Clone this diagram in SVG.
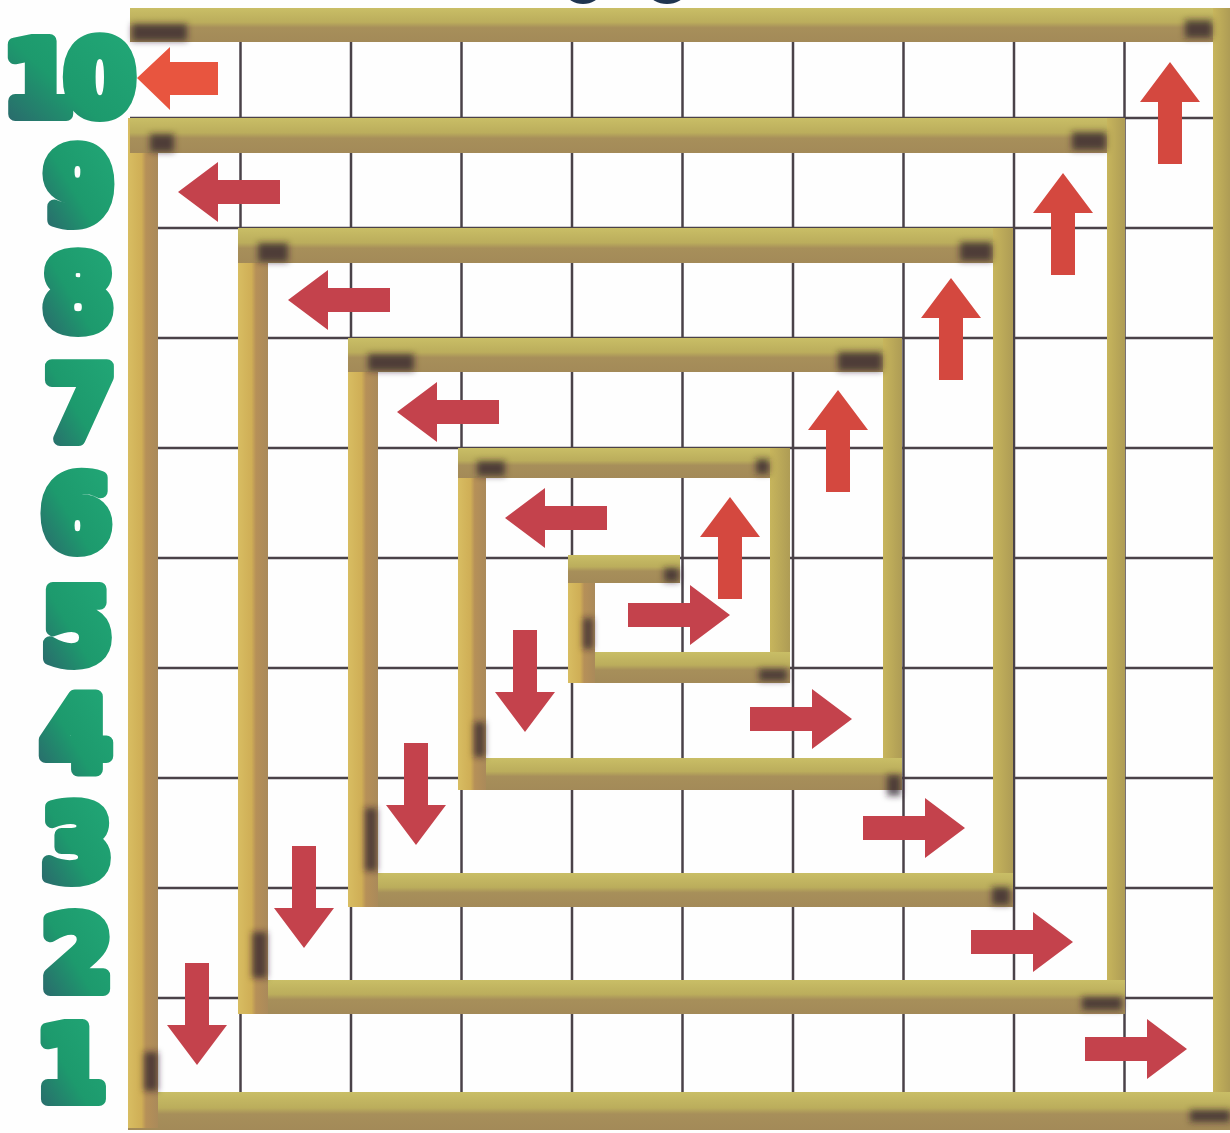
<svg xmlns="http://www.w3.org/2000/svg" width="1230" height="1133" viewBox="0 0 1230 1133">
  <defs>
    <linearGradient id="hg" x1="0" y1="0" x2="0" y2="1">
      <stop offset="0" stop-color="#c9be66"/>
      <stop offset="0.42" stop-color="#bbad5c"/>
      <stop offset="0.58" stop-color="#a78f5a"/>
      <stop offset="1" stop-color="#a38a58"/>
    </linearGradient>
    <linearGradient id="vg" x1="0" y1="0" x2="1" y2="0">
      <stop offset="0" stop-color="#d8bd62"/>
      <stop offset="0.45" stop-color="#cfae56"/>
      <stop offset="0.6" stop-color="#b69058"/>
      <stop offset="1" stop-color="#aa8a5a"/>
    </linearGradient>
    <linearGradient id="rg" x1="0" y1="0" x2="1" y2="0">
      <stop offset="0" stop-color="#c7b55c"/>
      <stop offset="1" stop-color="#ae9c55"/>
    </linearGradient>
    <linearGradient id="green" x1="1" y1="0" x2="0" y2="1">
      <stop offset="0" stop-color="#22a877"/>
      <stop offset="0.55" stop-color="#1d9a6d"/>
      <stop offset="1" stop-color="#2d5f6c"/>
    </linearGradient>
    <filter id="soft" x="-40%" y="-40%" width="180%" height="180%">
      <feGaussianBlur stdDeviation="3"/>
    </filter>
    <path id="arr" d="M0,0 L-40,-30 L-40,-12 L-102,-12 L-102,12 L-40,12 L-40,30 Z"/>
    <style>
      .grid line { stroke: #4a4248; stroke-width: 2.5; }
      .h { fill: url(#hg); }
      .v { fill: url(#vg); }
      .r { fill: url(#rg); }
      .dark rect { fill: #2a2028; opacity: 0.7; }
      .a { fill: #c4424c; }
      .au { fill: #d4483f; }
      .num { font-family: "DejaVu Sans", "Liberation Sans", sans-serif; font-weight: bold; font-size: 100px; fill: url(#green); stroke: url(#green); stroke-width: 14; stroke-linejoin: round; text-anchor: middle; }
    </style>
  </defs>

  <rect x="0" y="0" width="1230" height="1133" fill="#fefefe"/>

  <!-- cropped shapes at top edge -->
  <ellipse cx="583" cy="-6" rx="16" ry="10" fill="#1f3550"/>
  <ellipse cx="667" cy="-6" rx="17" ry="10" fill="#1f3550"/>

  <!-- grid -->
  <g id="grid" class="grid">
    <line x1="240.5" y1="8" x2="240.5" y2="1108"/>
    <line x1="351" y1="8" x2="351" y2="1108"/>
    <line x1="461.5" y1="8" x2="461.5" y2="1108"/>
    <line x1="572" y1="8" x2="572" y2="1108"/>
    <line x1="682.5" y1="8" x2="682.5" y2="1108"/>
    <line x1="793" y1="8" x2="793" y2="1108"/>
    <line x1="903.5" y1="8" x2="903.5" y2="1108"/>
    <line x1="1014" y1="8" x2="1014" y2="1108"/>
    <line x1="1124.5" y1="8" x2="1124.5" y2="1108"/>
    <line x1="130" y1="118" x2="1225" y2="118"/>
    <line x1="130" y1="228" x2="1225" y2="228"/>
    <line x1="130" y1="338" x2="1225" y2="338"/>
    <line x1="130" y1="448" x2="1225" y2="448"/>
    <line x1="130" y1="558" x2="1225" y2="558"/>
    <line x1="130" y1="668" x2="1225" y2="668"/>
    <line x1="130" y1="778" x2="1225" y2="778"/>
    <line x1="130" y1="888" x2="1225" y2="888"/>
    <line x1="130" y1="998" x2="1225" y2="998"/>
  </g>

  <!-- spiral walls -->
  <g id="walls">
    <rect class="h" x="130" y="8" width="1100" height="34"/>
    <rect class="r" x="1213" y="8" width="17" height="1122"/>
    <rect class="h" x="128" y="1092" width="1102" height="38"/>
    <rect class="v" x="128" y="118" width="30" height="1010"/>
    <rect class="h" x="130" y="118" width="995" height="35"/>
    <rect class="r" x="1107" y="118" width="18" height="895"/>
    <rect class="h" x="238" y="980" width="887" height="34"/>
    <rect class="v" x="238" y="228" width="30" height="786"/>
    <rect class="h" x="238" y="228" width="775" height="35"/>
    <rect class="r" x="993" y="228" width="20" height="679"/>
    <rect class="h" x="348" y="873" width="665" height="34"/>
    <rect class="v" x="348" y="338" width="30" height="569"/>
    <rect class="h" x="348" y="338" width="554" height="34"/>
    <rect class="r" x="883" y="338" width="19" height="452"/>
    <rect class="h" x="458" y="758" width="444" height="32"/>
    <rect class="v" x="458" y="448" width="28" height="342"/>
    <rect class="h" x="458" y="448" width="332" height="30"/>
    <rect class="r" x="770" y="448" width="20" height="235"/>
    <rect class="h" x="568" y="652" width="222" height="31"/>
    <rect class="v" x="568" y="555" width="27" height="128"/>
    <rect class="h" x="568" y="555" width="112" height="28"/>
  </g>

  <!-- dark shading at wall ends -->
  <g id="shade" class="dark" filter="url(#soft)">
    <rect x="132" y="24" width="55" height="17"/>
    <rect x="1185" y="20" width="27" height="18"/>
    <rect x="150" y="134" width="24" height="18"/>
    <rect x="1072" y="132" width="34" height="18"/>
    <rect x="258" y="243" width="30" height="19"/>
    <rect x="960" y="242" width="32" height="19"/>
    <rect x="368" y="354" width="46" height="17"/>
    <rect x="838" y="352" width="44" height="19"/>
    <rect x="477" y="461" width="28" height="15"/>
    <rect x="756" y="459" width="13" height="15"/>
    <rect x="664" y="568" width="15" height="14"/>
    <rect x="583" y="618" width="10" height="31"/>
    <rect x="474" y="722" width="11" height="35"/>
    <rect x="365" y="808" width="12" height="63"/>
    <rect x="252" y="932" width="15" height="46"/>
    <rect x="144" y="1052" width="14" height="39"/>
    <rect x="759" y="669" width="28" height="12"/>
    <rect x="887" y="775" width="14" height="21"/>
    <rect x="992" y="887" width="18" height="18"/>
    <rect x="1082" y="997" width="40" height="13"/>
    <rect x="1190" y="1110" width="40" height="12"/>
  </g>

  <!-- arrows -->
  <g id="arrows">
    <use href="#arr" class="a" transform="translate(730,615)"/>
    <use href="#arr" class="a" transform="translate(852,719)"/>
    <use href="#arr" class="a" transform="translate(965,828)"/>
    <use href="#arr" class="a" transform="translate(1073,942)"/>
    <use href="#arr" class="a" transform="translate(1187,1049)"/>
    <use href="#arr" class="au" transform="translate(730,497) rotate(-90)"/>
    <use href="#arr" class="au" transform="translate(838,390) rotate(-90)"/>
    <use href="#arr" class="au" transform="translate(951,278) rotate(-90)"/>
    <use href="#arr" class="au" transform="translate(1063,173) rotate(-90)"/>
    <use href="#arr" class="au" transform="translate(1170,62) rotate(-90)"/>
    <use href="#arr" class="a" transform="translate(505,518) rotate(180)"/>
    <use href="#arr" class="a" transform="translate(397,412) rotate(180)"/>
    <use href="#arr" class="a" transform="translate(288,300) rotate(180)"/>
    <use href="#arr" class="a" transform="translate(178,192) rotate(180)"/>
    <use href="#arr" class="a" transform="translate(525,732) rotate(90)"/>
    <use href="#arr" class="a" transform="translate(416,845) rotate(90)"/>
    <use href="#arr" class="a" transform="translate(304,948) rotate(90)"/>
    <use href="#arr" class="a" transform="translate(197,1065) rotate(90)"/>
    <path d="M137,78 L170,47 L170,62 L218,62 L218,95 L170,95 L170,110 Z" fill="#e8553f"/>
  </g>

  <!-- row numbers -->
  <g id="numbers">
    <text class="num" x="65" y="114" letter-spacing="-8">10</text>
    <text class="num" x="79" y="222">9</text>
    <text class="num" x="78" y="329">8</text>
    <text class="num" x="80" y="439">7</text>
    <text class="num" x="76" y="549">6</text>
    <text class="num" x="77" y="662">5</text>
    <text class="num" x="76" y="769">4</text>
    <text class="num" x="77" y="879">3</text>
    <text class="num" x="77" y="989">2</text>
    <text class="num" x="71" y="1099">1</text>
  </g>
</svg>
